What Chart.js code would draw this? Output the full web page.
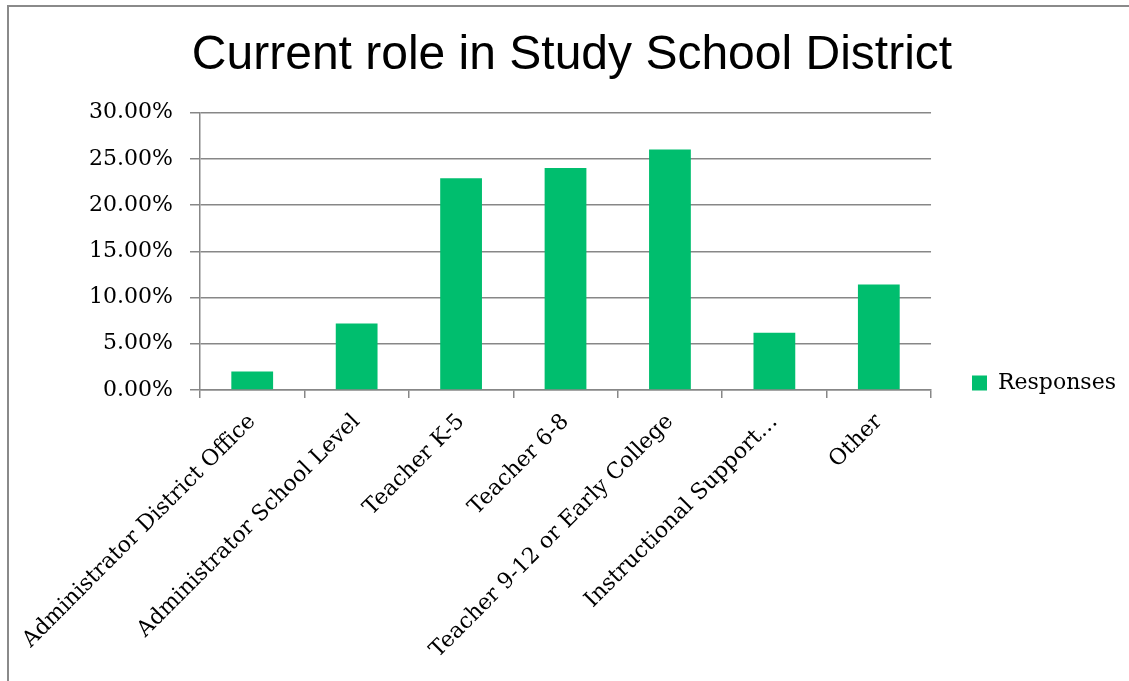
<!DOCTYPE html>
<html>
<head>
<meta charset="utf-8">
<title>Current role in Study School District</title>
<script src="https://cdn.jsdelivr.net/npm/chart.js@4/dist/chart.umd.min.js"></script>
<style>
  html, body { margin: 0; padding: 0; background: #fff; }
  #wrap { position: relative; width: 1129px; height: 681px; overflow: hidden; }
</style>
</head>
<body>
<div id="wrap"><canvas id="roleChart" width="1129" height="681"></canvas></div>
<script>
// Survey data
const roleLabels = [
  'Administrator District Office',
  'Administrator School Level',
  'Teacher K-5',
  'Teacher 6-8',
  'Teacher 9-12 or Early College',
  'Instructional Support…',
  'Other'
];
const responsePercents = [2.0, 7.2, 22.9, 24.0, 26.0, 6.2, 11.4];
const yTicks = [0, 5, 10, 15, 20, 25, 30];

const barGreen = '#00BE6E';
const lineGray = '#878787';
const serifFont = 'DejaVu Serif';

// outer frame line of the chart
const framePlugin = {
  id: 'frame',
  beforeDraw(chart) {
    const ctx = chart.ctx;
    ctx.save();
    ctx.strokeStyle = '#8a8a8a';
    ctx.lineWidth = 2;
    ctx.strokeRect(8, 6, 1400, 1000);
    ctx.restore();
  }
};

// push the legend down next to the axis, and centre the title on the frame
const layoutTweaks = {
  id: 'layoutTweaks',
  afterLayout(chart) {
    const lg = chart.legend;
    const w = lg.width;
    lg.left = 962;
    lg.right = 962 + w;
    lg.top += 14;
    lg.bottom += 14;

    const tb = chart.titleBlock;
    tb.left = 15;
    tb.right = 1129;
  }
};

const ctx = document.getElementById('roleChart').getContext('2d');
const roleChart = new Chart(ctx, {
  type: 'bar',
  data: {
    labels: roleLabels,
    datasets: [{
      label: 'Responses',
      data: responsePercents,
      backgroundColor: barGreen,
      borderWidth: 0,
      categoryPercentage: 1.0,
      barPercentage: 0.4
    }]
  },
  options: {
    responsive: false,
    animation: false,
    layout: { padding: { left: 0, right: 34, top: 0, bottom: 0 } },
    plugins: {
      title: {
        display: true,
        text: 'Current role in Study School District',
        color: '#000',
        font: { family: 'Liberation Sans', size: 48, weight: 'normal' },
        padding: { top: 27, bottom: 28 }
      },
      legend: {
        position: 'right',
        align: 'end',
        fullSize: false,
        labels: {
          color: '#000',
          font: { family: serifFont, size: 22 },
          boxWidth: 15,
          boxHeight: 15,
          padding: 10
        }
      },
      tooltip: { enabled: false }
    },
    scales: {
      x: {
        offset: true,
        grid: {
          offset: true,
          drawOnChartArea: false,
          drawTicks: true,
          tickLength: 8,
          color: lineGray,
          lineWidth: 1.5
        },
        border: { color: lineGray, width: 1.5 },
        ticks: {
          color: '#000',
          font: { family: serifFont, size: 22 },
          minRotation: 45,
          maxRotation: 45,
          autoSkip: false,
          padding: 11
        },
        afterFit(scale) { scale.height = 291; }
      },
      y: {
        min: 0,
        max: 30,
        afterBuildTicks(scale) { scale.ticks = yTicks.map(v => ({ value: v })); },
        grid: {
          color: lineGray,
          lineWidth: 1.5,
          tickLength: 10
        },
        border: { color: lineGray, width: 1.5 },
        ticks: {
          color: '#000',
          font: { family: serifFont, size: 22 },
          padding: 17,
          callback: v => v.toFixed(2) + '%'
        },
        afterFit(scale) { scale.width = 200; }
      }
    }
  },
  plugins: [framePlugin, layoutTweaks]
});
</script>
</body>
</html>
